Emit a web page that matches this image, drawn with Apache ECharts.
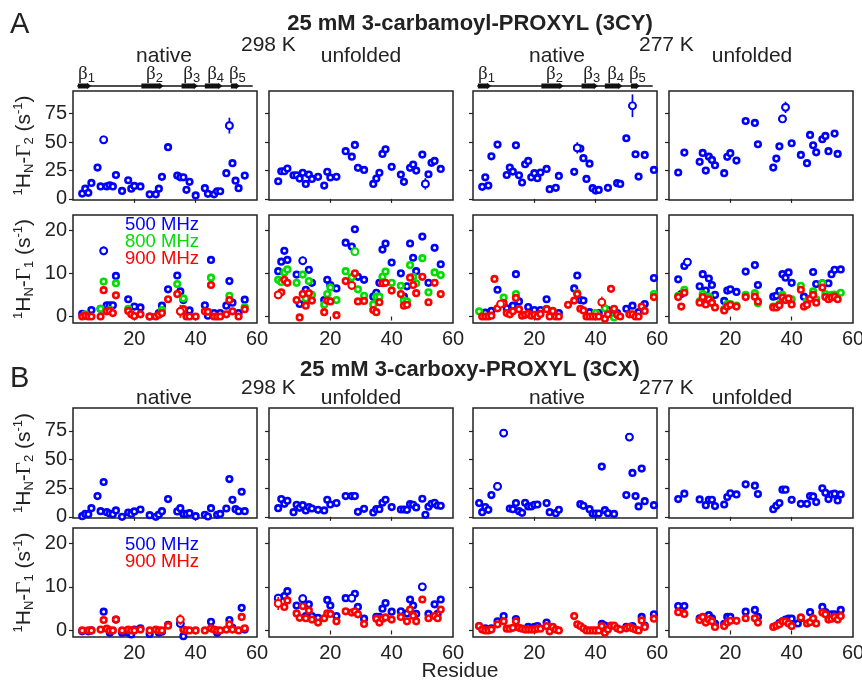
<!DOCTYPE html>
<html>
<head>
<meta charset="utf-8">
<script src="https://cdn.jsdelivr.net/npm/echarts@6/dist/echarts.min.js"></script>
<style>
  html, body { margin: 0; padding: 0; background: #fff; }
  #main { width: 862px; height: 680px; }
</style>
</head>
<body>
<div id="main"></div>
<script>
var BLUE = '#0000ff', GREEN = '#00dd00', RED = '#ff0000', INK = '#222';
var FONT = 'Liberation Sans';

// ---- A: 3CY, Gamma2 (500 MHz) ----
var A_G2_298_nat = [[3,4.7],[4,9],[5,5.3],[6,14],[8,27.6],[9,11],[10,52],[11,11],[12,12],[13,11],[14,21],[16,7],[18,16.4],[19,9],[20,11.4],[22,11],[25,4],[27,4],[28,9],[29,19.4],[31,45.5],[34,20.5],[35,19],[36,19],[37,8],[38,15],[40,3],[43,9.4],[44,4.4],[46,4],[47,6.7],[48,6.7],[50,22.6],[51,64.5],[52,31.4],[53,16],[54,9.4],[56,20.5]];
var A_G2_298_unf = [[3,15.5],[4,24.3],[5,24.3],[6,26.7],[8,20.8],[9,20.8],[10,17.9],[11,22.9],[12,13.2],[13,21.4],[14,17.6],[16,19.4],[18,11.7],[19,23.8],[20,18.8],[22,19.4],[25,42],[27,37.2],[28,47.5],[29,27.3],[31,25.5],[34,13.2],[35,17.9],[36,22.9],[37,39.6],[38,43.7],[40,28.2],[43,21.4],[44,15],[46,27.3],[47,30.2],[48,24.9],[50,39],[51,13.2],[52,21.7],[53,31.7],[54,33.4],[56,26.4]];
var A_G2_277_nat = [[3,10.6],[4,19],[5,11.7],[6,37.5],[8,47.8],[11,21],[12,27.6],[13,24],[14,47.2],[15,20.8],[16,14.4],[17,30.5],[18,33.4],[19,19],[20,22.6],[21,18.2],[22,23.2],[24,26.4],[25,8.5],[27,9.7],[28,20.2],[33,23.8],[34,44.9],[35,44.3],[36,35.8],[37,17.6],[38,31],[39,9.4],[40,7.3],[41,7.9],[44,9.7],[47,13.8],[48,13.2],[50,53.4],[52,82],[53,39.3],[54,19.6],[56,38.7],[59,25.5]];
var A_G2_277_unf = [[3,23.2],[5,40.8],[10,32.6],[11,40.5],[12,24.9],[13,37.2],[14,34.3],[15,29.6],[18,22.6],[19,37],[20,40.2],[22,33.7],[25,68.6],[28,66.9],[29,48.1],[34,27.6],[35,35.5],[36,46.3],[37,70.4],[38,80.6],[40,49],[43,38.7],[45,31.4],[46,56.3],[47,47.2],[48,41],[50,52.5],[51,55.4],[52,42],[54,57.5],[55,39.6]];

// ---- A: 3CY, Gamma1 at 500 / 800 / 900 MHz ----
var A_G1_298_nat_500 = [[3,0.6],[6,1.5],[9,1.8],[10,15.2],[11,2.6],[12,2.6],[13,2.6],[14,9.4],[18,4],[20,2.3],[22,2.1],[25,0],[28,0.8],[29,2.5],[31,6.3],[34,9.5],[35,5.8],[36,3.8],[38,1.4],[43,2.6],[44,0.2],[45,13.1],[46,0.8],[48,0.8],[50,2.5],[51,8.2],[52,3.2],[54,0.8],[56,3.9]];
var A_G1_298_nat_800 = [[4,0.5],[9,1.8],[10,8.1],[12,1.5],[14,7.7],[18,1.8],[29,1.5],[34,7.5],[36,4.2],[45,9],[51,4.8],[56,2.2]];
var A_G1_298_nat_900 = [[3,0],[4,0.2],[5,0],[6,0],[9,0],[10,6.1],[11,1.2],[12,1.3],[13,0.8],[14,4.9],[18,1.3],[19,0.5],[20,0.1],[22,0.5],[25,0],[27,0],[28,0.4],[29,0.8],[31,4],[34,5.2],[35,1.2],[36,1.7],[37,0],[38,0],[40,0],[43,1.2],[44,1.1],[45,7.3],[46,0],[47,0],[48,0],[50,0.5],[51,3.8],[52,1.2],[54,0],[56,1.7]];
var A_G1_298_unf_500 = [[3,10.5],[4,12.7],[5,15.2],[6,13.1],[9,9.7],[10,2.9],[11,12.9],[12,6.2],[13,10.8],[14,7.8],[18,3.8],[19,8.5],[20,7.3],[22,6.5],[25,17.1],[27,16.2],[28,20.2],[29,9.2],[31,8.5],[34,4.6],[35,5.5],[36,7.8],[37,15.5],[38,16.9],[40,12.5],[43,10],[44,4.6],[45,7],[46,16.9],[47,13.6],[48,10.5],[50,18.5],[52,7.8],[54,15.9],[56,12.1]];
var A_G1_298_unf_800 = [[3,8.5],[4,8],[5,10.2],[6,10.9],[9,7.8],[11,9.7],[12,4.2],[13,8.2],[14,5],[18,2.7],[19,5.2],[20,6.7],[22,3.8],[25,10.5],[27,9.1],[28,15],[29,6.3],[31,4.8],[34,2.8],[35,4.6],[36,4.6],[37,9.2],[38,10.4],[40,7.8],[43,7.1],[44,3.7],[45,3.5],[46,11.9],[47,9.2],[48,7.7],[50,13.5],[52,5.6],[54,10.2],[56,9.6]];
var A_G1_298_unf_900 = [[3,5],[4,5.6],[5,8.5],[6,7.8],[9,3.8],[10,-0.2],[11,5.2],[12,2.5],[13,5.4],[14,3.7],[18,1],[19,3.7],[20,3.5],[22,0.3],[25,8.2],[27,7.2],[28,10],[29,3.5],[31,3.6],[34,1.5],[35,1],[36,3.3],[37,7.7],[38,7.8],[40,6],[43,5.2],[44,2.5],[45,2.7],[46,9],[47,7.3],[48,5.4],[50,9.2],[52,3.3],[54,7.8],[56,5.2]];
var A_G1_277_nat_500 = [[4,0.9],[6,1.3],[8,6.2],[11,1.9],[13,2.5],[14,9.8],[15,3.5],[18,2.2],[20,1.5],[22,1.5],[24,4],[28,0.8],[33,6.5],[34,9.5],[35,3.8],[36,3.7],[38,1],[41,0.8],[44,1.5],[46,0.8],[47,0.8],[50,1.8],[52,2.5],[54,1],[56,2.9],[59,8.9]];
var A_G1_277_nat_800 = [[2,1.2],[10,4.4],[14,5.2],[24,1.8],[34,5.4],[40,0.8],[43,1.9],[46,-0.2],[59,5.2]];
var A_G1_277_nat_900 = [[3,0],[4,0],[5,0],[6,0.2],[7,8.7],[8,1.9],[9,2.9],[10,3.1],[11,0.8],[12,0.5],[13,1.2],[14,4.3],[15,1.7],[16,0.2],[17,0.4],[18,0.6],[19,0.2],[20,0.4],[21,0],[22,0.6],[24,1.7],[25,0],[26,1.3],[27,0],[28,0],[31,2.7],[33,3.7],[34,5.2],[35,1.8],[36,1.4],[37,0],[38,0],[39,0],[40,0],[41,0],[42,3.3],[43,-0.5],[44,0.5],[45,6.4],[46,1.8],[47,0.4],[48,0],[51,0.5],[52,0.5],[53,0],[54,0],[55,2.3],[56,1.3],[59,4.5]];
var A_G1_277_unf_500 = [[3,8.6],[4,5.2],[5,11.7],[6,12.6],[10,7],[11,9.8],[12,6],[13,8.8],[14,7.3],[15,5],[18,3.6],[19,6],[20,6.3],[22,5.7],[25,10.4],[28,11.9],[29,7.3],[34,4.6],[35,4.8],[36,5.9],[37,9.8],[38,9],[39,10.2],[40,7.8],[44,4.6],[47,10.3],[48,7.5],[50,7.7],[52,7.7],[53,9.8],[54,10.8],[56,10.9]];
var A_G1_277_unf_800 = [[3,4.8],[5,6.2],[10,3.5],[11,5.2],[12,4.2],[13,4.6],[14,3.1],[18,1.7],[19,2.9],[20,2.9],[22,2.5],[25,5],[28,5.4],[29,3.1],[34,2.3],[36,2.9],[37,5],[40,4],[43,7.1],[45,3.5],[47,5.8],[48,4],[50,7.7],[51,5.2],[53,5],[54,5.1],[56,5.5]];
var A_G1_277_unf_900 = [[3,4.5],[4,2.3],[5,5.5],[10,3.2],[11,4.5],[12,2.8],[13,4],[14,3.2],[15,2.1],[18,1.4],[19,2.3],[20,2.7],[22,2.3],[25,4.5],[28,4.6],[29,3.5],[34,2.1],[35,2.1],[36,2.6],[37,4.4],[38,3.8],[39,4.2],[40,2.8],[43,6.2],[44,2.3],[45,2.7],[46,4.1],[47,5],[48,3.2],[50,6.7],[51,4.5],[52,4],[53,4.4],[54,4.6],[55,4]];

// ---- B: 3CX, Gamma2 (500 MHz) ----
var B_G2_298_nat = [[3,0.6],[4,2.6],[5,2.3],[6,7.6],[8,18.1],[9,5],[10,30.4],[11,4.1],[12,2.9],[13,2.3],[14,5.6],[16,0],[18,3.8],[19,2.6],[20,4.7],[22,6.4],[25,1.5],[27,0],[28,2],[29,5],[31,15.5],[34,4.7],[35,7.6],[36,2.6],[37,2.6],[38,3.2],[40,0.6],[43,1.8],[44,0.3],[45,7.6],[47,1.8],[48,2.6],[50,7.3],[51,33],[52,14.9],[53,6.7],[54,5],[55,21.9],[56,5]];
var B_G2_298_unf = [[3,7.6],[4,15.5],[5,11.4],[6,14],[8,4.1],[9,10.5],[10,7.9],[11,10.2],[12,5.6],[13,8.5],[14,7.3],[16,6.1],[18,5.6],[19,14.9],[20,10.8],[22,12],[25,18.1],[27,18.1],[28,18.1],[29,4.4],[31,7],[34,3.8],[35,6.7],[36,6.7],[37,12.3],[38,14.9],[40,8.5],[43,6.4],[44,6.4],[45,6.1],[46,11.1],[47,10.5],[48,8.2],[50,15.8],[51,1.8],[52,8.8],[53,11.4],[54,12.3],[55,9.9],[56,9.6]];
var B_G2_277_nat = [[2,12],[3,4.1],[4,8.5],[5,6.1],[6,19],[8,26.6],[10,73.1],[12,7.3],[13,6.7],[14,12],[15,5],[16,3.5],[17,12.3],[18,9.1],[19,9.1],[20,10.5],[21,10.8],[24,12],[25,4.1],[27,3.2],[28,6.1],[35,11.1],[36,9.6],[38,6.7],[39,2.9],[40,2.9],[41,2.9],[42,43.9],[43,5.8],[44,3.2],[46,2.6],[50,19],[51,69.6],[52,38.3],[53,18.1],[54,9.1],[55,42.1],[56,13.7],[59,10.2]];
var B_G2_277_unf = [[3,15.5],[5,20.2],[10,15.2],[12,10.2],[13,14.9],[14,14.9],[15,9.4],[18,10.8],[19,17.3],[20,20.5],[22,19.6],[25,28.4],[28,27.2],[29,19.9],[34,6.7],[35,9.6],[36,12],[37,23.7],[38,23.7],[40,14.9],[43,11.4],[45,11.4],[46,18.1],[47,17.8],[48,12.9],[50,24.9],[51,21],[52,15.5],[53,19.6],[54,20.2],[55,14.3],[56,19.6]];

// ---- B: 3CX, Gamma1 at 500 / 900 MHz ----
var B_G1_298_nat_500 = [[3,-0.2],[5,-0.2],[6,0],[10,4.3],[12,-0.5],[14,2.5],[16,-0.5],[18,-0.5],[19,-0.9],[20,0.2],[22,0.5],[25,-0.8],[28,-0.5],[29,-0.3],[31,1.3],[35,1.6],[36,-1.3],[45,2],[47,-0.5],[51,2.4],[52,0.6],[55,5.2],[56,0.2]];
var B_G1_298_nat_900 = [[3,0],[5,0],[6,0],[9,0.2],[10,2.4],[11,0.4],[12,0],[13,0],[14,2.5],[16,0],[18,0.2],[19,0],[20,0],[22,0.2],[25,0],[27,0.2],[28,0],[29,0],[31,1.1],[35,2.5],[36,0.2],[37,0],[38,0],[40,0],[43,0],[45,0.5],[46,0.2],[47,0],[48,0],[50,0.2],[51,1.4],[52,0.2],[54,0],[55,3.1],[56,0.5]];
var B_G1_298_unf_500 = [[3,7.4],[5,7.9],[6,9],[9,5.7],[11,7.3],[12,3.3],[13,6],[14,3.3],[16,2.9],[19,7],[20,5.7],[22,3.3],[25,7.4],[27,7.4],[28,8.4],[29,5.4],[31,2.7],[35,3.1],[36,3.1],[37,5],[38,6.3],[40,4.3],[43,4.4],[45,3.9],[46,7.1],[47,5.7],[48,3.8],[50,10],[52,3.8],[54,6],[55,3.8],[56,7.1]];
var B_G1_298_unf_900 = [[3,6.2],[5,5.4],[6,6.9],[9,3.9],[10,2.9],[11,5.6],[12,2.8],[13,4.6],[14,2.5],[16,1.8],[18,2.8],[19,3.9],[20,3.8],[22,2.1],[25,4.4],[27,4.1],[28,4.4],[29,3.7],[31,1.5],[35,2.7],[36,1.8],[37,2.7],[38,3],[40,2.5],[43,3.1],[45,2.1],[46,4.8],[47,3.4],[48,2.1],[50,7.1],[52,2.8],[54,3.3],[55,2.8],[56,4.8]];
var B_G1_277_nat_500 = [[2,1],[4,0.5],[6,0.5],[8,2.1],[10,3.3],[14,2.6],[18,0.8],[20,0.8],[21,1],[24,1.8],[42,1.5],[43,1.1],[50,0.8],[52,1],[55,3.1],[56,1.1],[59,3.7]];
var B_G1_277_nat_900 = [[2,1],[3,0.2],[4,0],[5,0],[6,0.2],[8,1.4],[10,2.1],[11,0.4],[12,0.4],[13,0.6],[14,2.1],[15,0.6],[16,0.4],[17,0.2],[18,0.2],[19,0.2],[20,0.2],[21,0.4],[22,0.4],[24,1],[25,-0.2],[26,0.8],[27,0.2],[28,0],[33,3.3],[34,1.4],[35,1],[36,0.5],[37,0],[38,0],[39,0],[40,0],[41,0],[42,1],[43,-0.5],[44,0.2],[45,1.1],[46,1.1],[47,0.5],[48,0.2],[50,0.5],[51,0.8],[52,0.5],[53,0.2],[54,0],[55,2.3],[56,0.8],[59,2.7]];
var B_G1_277_unf_500 = [[3,5.6],[5,5.6],[10,2.8],[11,2.9],[13,3.5],[14,2.8],[15,1.6],[18,1.5],[19,3.1],[20,3.1],[25,4.3],[28,4.7],[29,3.1],[36,1.7],[37,2.1],[38,2.5],[39,2.7],[40,2.7],[42,1.6],[43,2.8],[46,4.2],[50,5.4],[51,4.2],[53,3.7],[54,3.7],[56,4.7]];
var B_G1_277_unf_900 = [[3,4.2],[5,3.8],[10,2.4],[11,3.1],[12,1.8],[13,2.5],[14,2.1],[15,0.8],[18,1],[19,1.8],[20,2.2],[22,2.2],[25,2.8],[28,2.8],[29,1.8],[34,0.8],[35,1.1],[36,1.4],[37,2.1],[38,2.1],[39,1.6],[40,1],[43,3],[45,1.6],[46,1.9],[47,2.8],[48,1.6],[50,4.1],[51,3.7],[52,2.5],[53,2.7],[54,3.1],[55,2.5],[56,3.3]];

// error bars [residue, value, error] for the points where they show
var A_G2_298_nat_err = [[10,52,3],[51,64.5,7]];
var A_G2_298_unf_err = [[51,13.2,5]];
var A_G2_277_nat_err = [[34,44.9,5],[52,82,10]];
var A_G2_277_unf_err = [[37,70.4,3],[38,80.6,5]];
var A_G1_298_nat_500_err = [[10,15.2,1]];
var A_G1_298_nat_900_err = [[35,1.2,1.5]];
var A_G1_298_unf_500_err = [[11,12.9,1]];
var A_G1_298_unf_800_err = [[28,15,1]];
var A_G1_298_unf_900_err = [[3,5,1],[27,7.2,1]];
var A_G1_277_nat_900_err = [[9,2.9,0.7],[42,3.3,1.3]];
var A_G1_277_unf_500_err = [[6,12.6,0.8]];
var B_G2_277_nat_err = [[8,26.6,2],[10,73.1,3],[51,69.6,3]];
var B_G1_298_nat_500_err = [[35,1.6,1]];
var B_G1_298_nat_900_err = [[35,2.5,1.2]];
var B_G1_298_unf_500_err = [[3,7.4,1],[11,7.3,0.8],[27,7.4,0.8],[50,10,0.8]];
var B_G1_298_unf_900_err = [[3,6.2,1.5]];

// secondary structure: [start, end, strand number]
var strands = [[1.6,5.9,1],[22.3,29.5,2],[35.4,40.7,3],[43,48.7,4],[51.5,54.4,5]];
var strandLine = [[1.4,58.6]];

var g2Ticks = [0, 25, 50, 75];
var g1Ticks = [0, 10, 20];
var xTickVals = [20, 40];
var xLabelVals = [20, 40, 60];

var colLeft = [73, 269, 473, 669];
var rowTop = [91, 215, 408, 528];
var rowH = [109, 108, 110, 109];

var panels = [
    {row:0, col:0, sets:[[A_G2_298_nat, BLUE, A_G2_298_nat_err]]},
    {row:0, col:1, sets:[[A_G2_298_unf, BLUE, A_G2_298_unf_err]]},
    {row:0, col:2, sets:[[A_G2_277_nat, BLUE, A_G2_277_nat_err]]},
    {row:0, col:3, sets:[[A_G2_277_unf, BLUE, A_G2_277_unf_err]]},
    {row:1, col:0, sets:[[A_G1_298_nat_500, BLUE, A_G1_298_nat_500_err],[A_G1_298_nat_800, GREEN],[A_G1_298_nat_900, RED, A_G1_298_nat_900_err]]},
    {row:1, col:1, sets:[[A_G1_298_unf_500, BLUE, A_G1_298_unf_500_err],[A_G1_298_unf_800, GREEN, A_G1_298_unf_800_err],[A_G1_298_unf_900, RED, A_G1_298_unf_900_err]]},
    {row:1, col:2, sets:[[A_G1_277_nat_500, BLUE],[A_G1_277_nat_800, GREEN],[A_G1_277_nat_900, RED, A_G1_277_nat_900_err]]},
    {row:1, col:3, sets:[[A_G1_277_unf_500, BLUE, A_G1_277_unf_500_err],[A_G1_277_unf_800, GREEN],[A_G1_277_unf_900, RED]]},
    {row:2, col:0, sets:[[B_G2_298_nat, BLUE]]},
    {row:2, col:1, sets:[[B_G2_298_unf, BLUE]]},
    {row:2, col:2, sets:[[B_G2_277_nat, BLUE, B_G2_277_nat_err]]},
    {row:2, col:3, sets:[[B_G2_277_unf, BLUE]]},
    {row:3, col:0, sets:[[B_G1_298_nat_500, BLUE, B_G1_298_nat_500_err],[B_G1_298_nat_900, RED, B_G1_298_nat_900_err]]},
    {row:3, col:1, sets:[[B_G1_298_unf_500, BLUE, B_G1_298_unf_500_err],[B_G1_298_unf_900, RED, B_G1_298_unf_900_err]]},
    {row:3, col:2, sets:[[B_G1_277_nat_500, BLUE],[B_G1_277_nat_900, RED]]},
    {row:3, col:3, sets:[[B_G1_277_unf_500, BLUE],[B_G1_277_unf_900, RED]]}
];

var richName = {
    sup: {fontSize: 13, fontFamily: FONT, color: INK, verticalAlign: 'top', lineHeight: 24},
    sub: {fontSize: 13, fontFamily: FONT, color: INK, verticalAlign: 'bottom', lineHeight: 24},
    g: {fontSize: 21, fontFamily: 'Liberation Serif', color: INK, lineHeight: 24}
};

function errRender(color) {
    return function(params, api) {
        var x = api.value(0), y = api.value(1), e = api.value(2);
        var top = api.coord([x, y + e]);
        var bot = api.coord([x, y - e]);
        var c = api.coord([x, y]);
        return {type: 'group', children: [
            {type: 'line', shape: {x1: top[0], y1: top[1], x2: bot[0], y2: bot[1]}, style: {stroke: color, lineWidth: 1.7}},
            {type: 'circle', shape: {cx: c[0], cy: c[1], r: 3.4}, style: {fill: '#fff', stroke: color, lineWidth: 1.9}}
        ]};
    };
}

var grids = [], xAxes = [], yAxes = [], series = [];

for (var i = 0; i < panels.length; i++) {
    var p = panels[i];
    var isG2 = (p.row % 2 === 0);
    var ticks = isG2 ? g2Ticks : g1Ticks;
    grids.push({left: colLeft[p.col], top: rowTop[p.row], width: 184, height: rowH[p.row],
        show: true, borderColor: INK, borderWidth: 1.5, backgroundColor: 'transparent', outerBoundsMode: 'none'});
    xAxes.push({gridIndex: i, type: 'value', min: 0, max: 60,
        axisLine: {show: false}, splitLine: {show: false},
        axisTick: {show: true, length: 4, customValues: xTickVals, lineStyle: {color: INK, width: 1.2}},
        axisLabel: {show: !isG2, customValues: xLabelVals, fontSize: 20, fontFamily: FONT, color: INK, margin: 6}});
    var yAx = {gridIndex: i, type: 'value', min: isG2 ? -1 : -1.5, max: isG2 ? 95 : 23.5,
        axisLine: {show: false}, splitLine: {show: false},
        axisTick: {show: true, length: 4, customValues: ticks, lineStyle: {color: INK, width: 1.2}},
        axisLabel: {show: p.col === 0, customValues: ticks, fontSize: 20, fontFamily: FONT, color: INK, margin: 6}};
    if (p.col === 0) {
        yAx.name = '{sup|1}H{sub|N}-{g|Γ}{sub|' + (isG2 ? '2' : '1') + '} (s{sup|-1})';
        yAx.nameLocation = 'middle';
        yAx.nameRotate = 90;
        yAx.nameGap = 37;
        yAx.nameTextStyle = {fontSize: 21, fontFamily: FONT, color: INK, lineHeight: 24, rich: richName};
    }
    yAxes.push(yAx);
    for (var k = 0; k < p.sets.length; k++) {
        var s = p.sets[k];
        series.push({type: 'scatter', xAxisIndex: i, yAxisIndex: i, data: s[0],
            symbol: 'circle', symbolSize: 5.6, silent: true, z: 2 + k * 0.1,
            itemStyle: {color: '#fff', borderColor: s[1], borderWidth: 2.6, opacity: 1}});
        if (s[2]) {
            series.push({type: 'custom', xAxisIndex: i, yAxisIndex: i, data: s[2],
                renderItem: errRender(s[1]), z: 3, silent: true, encode: {x: 0, y: 1}});
        }
    }
}

// secondary-structure strips above the native panels
[0, 2].forEach(function(col) {
    var gi = grids.length;
    grids.push({left: colLeft[col], top: 62, width: 184, height: 30, show: false, outerBoundsMode: 'none'});
    xAxes.push({gridIndex: gi, type: 'value', min: 0, max: 60, show: false});
    yAxes.push({gridIndex: gi, type: 'value', min: 0, max: 1, show: false});
    series.push({type: 'custom', xAxisIndex: gi, yAxisIndex: gi, data: strandLine, silent: true,
        renderItem: function(params, api) {
            var a = api.coord([api.value(0), 0.2]);
            var b = api.coord([api.value(1), 0.2]);
            return {type: 'line', shape: {x1: a[0], y1: a[1], x2: b[0], y2: b[1]}, style: {stroke: '#111', lineWidth: 1.5}};
        }});
    series.push({type: 'custom', xAxisIndex: gi, yAxisIndex: gi, data: strands, silent: true,
        renderItem: function(params, api) {
            var a = api.coord([api.value(0), 0.2]);
            var b = api.coord([api.value(1), 0.2]);
            var y = a[1], h = 4;
            var pts = [[a[0], y - 2.5], [b[0] - h, y - 2.5], [b[0] - h, y - 3.2], [b[0], y],
                       [b[0] - h, y + 3.2], [b[0] - h, y + 2.5], [a[0], y + 2.5]];
            return {type: 'group', children: [
                {type: 'polygon', shape: {points: pts}, style: {fill: '#111'}},
                {type: 'text', x: (a[0] + b[0]) / 2 + 2, y: y - 12, style: {
                    text: '{b|β}{s|' + api.value(2) + '}', align: 'center', verticalAlign: 'middle',
                    rich: {b: {fontSize: 19, fontFamily: 'Liberation Serif', fill: INK, lineHeight: 22},
                           s: {fontSize: 13, fontFamily: FONT, fill: INK, verticalAlign: 'bottom', lineHeight: 22}}}}
            ]};
        }});
});

function txt(x, y, text, size, opts) {
    opts = opts || {};
    return {type: 'text', x: x, y: y, silent: true, style: {
        text: text, fontSize: size, fontFamily: FONT, fontWeight: opts.bold ? 'bold' : 'normal',
        fill: opts.color || INK, align: opts.align || 'center', verticalAlign: 'middle'}};
}

var graphics = [
    txt(10, 25, 'A', 29, {align: 'left'}),
    txt(470, 24, '25 mM 3-carbamoyl-PROXYL (3CY)', 22, {bold: true}),
    txt(241, 45, '298 K', 21, {align: 'left'}),
    txt(639, 45, '277 K', 21, {align: 'left'}),
    txt(164, 56, 'native', 21),
    txt(361, 56, 'unfolded', 21),
    txt(557, 56, 'native', 21),
    txt(752, 56, 'unfolded', 21),
    txt(125, 225, '500 MHz', 18.5, {align: 'left', color: BLUE}),
    txt(125, 242, '800 MHz', 18.5, {align: 'left', color: GREEN}),
    txt(125, 259, '900 MHz', 18.5, {align: 'left', color: RED}),
    txt(10, 379, 'B', 29, {align: 'left'}),
    txt(470, 370, '25 mM 3-carboxy-PROXYL (3CX)', 22, {bold: true}),
    txt(241, 388, '298 K', 21, {align: 'left'}),
    txt(639, 388, '277 K', 21, {align: 'left'}),
    txt(164, 398, 'native', 21),
    txt(361, 398, 'unfolded', 21),
    txt(557, 398, 'native', 21),
    txt(752, 398, 'unfolded', 21),
    txt(125, 545, '500 MHz', 18.5, {align: 'left', color: BLUE}),
    txt(125, 562, '900 MHz', 18.5, {align: 'left', color: RED}),
    txt(460, 671, 'Residue', 21)
];

var chart = echarts.init(document.getElementById('main'), null, {renderer: 'canvas'});
chart.setOption({
    animation: false,
    backgroundColor: '#fff',
    grid: grids,
    xAxis: xAxes,
    yAxis: yAxes,
    series: series,
    graphic: graphics
});
</script>
</body>
</html>
